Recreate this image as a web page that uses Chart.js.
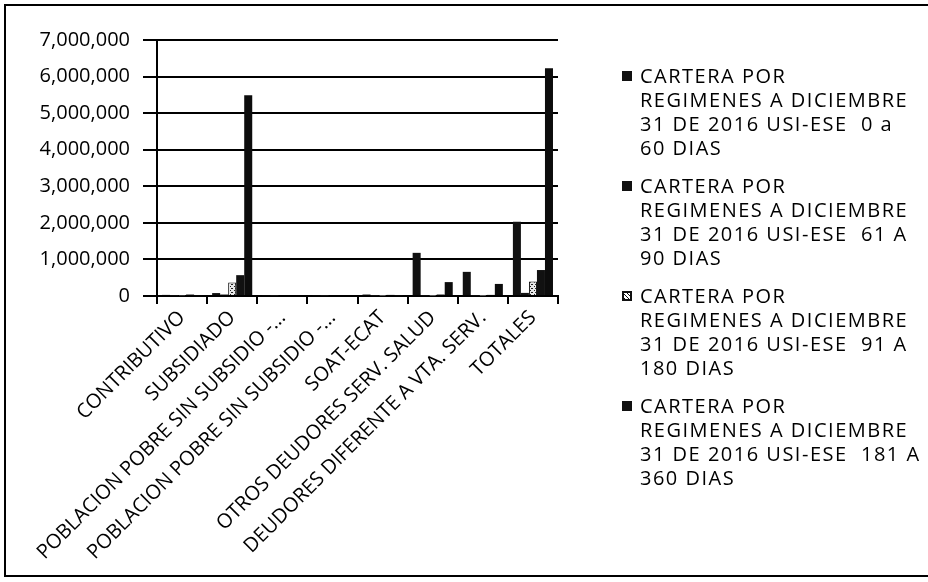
<!DOCTYPE html>
<html>
<head>
<meta charset="utf-8">
<script src="https://cdn.jsdelivr.net/npm/chart.js@4"></script>
<style>
  html, body { margin: 0; padding: 0; background: #fff; }
  #wrap { position: relative; width: 928px; height: 582px; overflow: hidden; }
  #frame { position: absolute; left: 4px; top: 4px; width: 940px; height: 573px; border: 2px solid #000; box-sizing: border-box; }
  #cv { position: absolute; left: 0; top: 0; }
  #legend { position: absolute; left: 622px; top: 64px; font-family: "Open Sans", sans-serif; font-size: 20px; letter-spacing: 1.5px; color: #000; }
  .item { position: relative; padding-left: 18px; line-height: 24px; margin-bottom: 14px; white-space: nowrap; }
  .mk { position: absolute; left: 0; top: 7px; width: 10px; height: 10px; background: #111; box-sizing: border-box; }
</style>
</head>
<body>
<div id="wrap">
  <div id="frame"></div>
  <canvas id="cv" width="928" height="582"></canvas>
  <div id="legend"></div>
</div>
<script>
const categories = [
  "CONTRIBUTIVO",
  "SUBSIDIADO",
  "POBLACION POBRE SIN SUBSIDIO -...",
  "POBLACION POBRE SIN SUBSIDIO -...",
  "SOAT-ECAT",
  "OTROS DEUDORES SERV. SALUD",
  "DEUDORES DIFERENTE A VTA. SERV.",
  "TOTALES"
];
const seriesNames = [
  ["CARTERA POR", "REGIMENES A DICIEMBRE", "31 DE 2016 USI-ESE  0 a", "60 DIAS"],
  ["CARTERA POR", "REGIMENES A DICIEMBRE", "31 DE 2016 USI-ESE  61 A", "90 DIAS"],
  ["CARTERA POR", "REGIMENES A DICIEMBRE", "31 DE 2016 USI-ESE  91 A", "180 DIAS"],
  ["CARTERA POR", "REGIMENES A DICIEMBRE", "31 DE 2016 USI-ESE  181 A", "360 DIAS"],
  ["CARTERA POR", "REGIMENES A DICIEMBRE", "31 DE 2016 USI-ESE  MAS DE", "360 DIAS"]
];
const legendShown = 4;
const dias0a60    = [30000, 80000, 20000, 20000, 40000, 1180000, 660000, 2030000];
const dias61a90   = [10000, 40000, 5000, 5000, 5000, 10000, 10000, 85000];
const dias91a180  = [10000, 370000, 0, 0, 5000, 5000, 5000, 395000];
const dias181a360 = [40000, 570000, 0, 0, 30000, 40000, 30000, 710000];
const diasMas360  = [20000, 5490000, 0, 0, 10000, 380000, 330000, 6230000];
const yTicks = [0, 1000000, 2000000, 3000000, 4000000, 5000000, 6000000, 7000000];

function makePattern() {
  const c = document.createElement('canvas');
  c.width = 4; c.height = 4;
  const g = c.getContext('2d');
  g.fillStyle = '#e8e8e8'; g.fillRect(0, 0, 4, 4);
  g.fillStyle = '#222';
  g.fillRect(0, 0, 1, 1); g.fillRect(2, 2, 1, 1); g.fillRect(3, 0, 1, 1);
  return g.createPattern(c, 'repeat');
}
const pat = makePattern();
const allSeries = [dias0a60, dias61a90, dias91a180, dias181a360, diasMas360];
const fills = ['#111', '#141414', pat, '#111', '#0c0c0c'];

const datasets = allSeries.map((d, i) => ({
  label: seriesNames[i].join(' '),
  data: d,
  backgroundColor: fills[i],
  borderColor: '#000',
  borderWidth: i === 2 ? 1 : 0,
  categoryPercentage: 0.8,
  barPercentage: 1.0
}));

const FONT = '"Open Sans", sans-serif';
new Chart(document.getElementById('cv'), {
  type: 'bar',
  data: { labels: categories, datasets },
  options: {
    responsive: false,
    animation: false,
    layout: { padding: { left: 37, right: 370, top: 40, bottom: 6 } },
    plugins: { legend: { display: false }, tooltip: { enabled: false } },
    scales: {
      x: {
        offset: true,
        afterFit: (ax) => { ax.height = 280; },
        grid: { drawOnChartArea: false, drawTicks: true, tickLength: 8, color: '#000', lineWidth: 2, offset: true },
        border: { color: '#000', width: 2 },
        ticks: { color: '#000', font: { family: FONT, size: 20 }, maxRotation: 45, minRotation: 45, autoSkip: false, padding: 2 }
      },
      y: {
        min: 0, max: 7000000,
        afterFit: (ax) => { ax.width = 120; },
        afterBuildTicks: (ax) => { ax.ticks = yTicks.map(v => ({ value: v })); },
        grid: { color: '#000', lineWidth: 2, tickLength: 14 },
        border: { color: '#000', width: 2 },
        ticks: { color: '#000', font: { family: FONT, size: 20 }, padding: 13,
                 callback: (v) => Number(v).toLocaleString('en-US') }
      }
    }
  }
});

const lg = document.getElementById('legend');
for (let i = 0; i < legendShown; i++) {
  const it = document.createElement('div');
  it.className = 'item';
  const mk = document.createElement('span');
  mk.className = 'mk';
  if (i === 2) { mk.style.background = '#fff'; mk.style.border = '2px solid #111'; mk.style.backgroundImage = 'repeating-linear-gradient(45deg,#111 0 1px,#fff 1px 3px)'; }
  it.appendChild(mk);
  it.insertAdjacentHTML('beforeend', seriesNames[i].map(s => s.replace(/  /g, '&nbsp; ')).join('<br>'));
  lg.appendChild(it);
}
</script>
</body>
</html>
